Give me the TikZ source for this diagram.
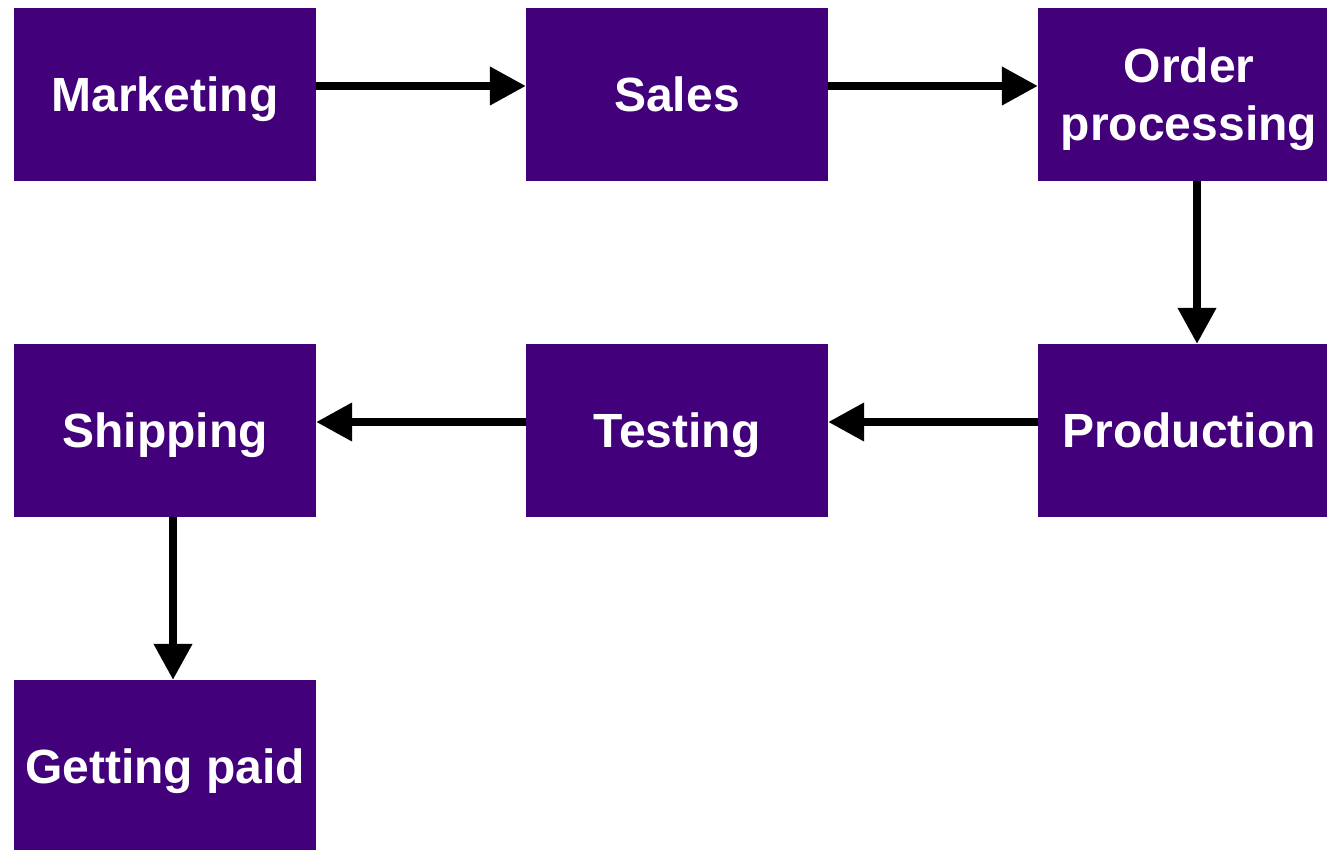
\documentclass[tikz,border=0pt]{standalone}
\usepackage{fontspec}
\setmainfont{Liberation Sans}
\usetikzlibrary{arrows.meta}
\definecolor{boxpurple}{HTML}{42007A}
\tikzset{
  stagebox/.style={rectangle, fill=boxpurple, draw=none, inner sep=0pt,
    minimum width=302pt, minimum height=173pt, text=white,
    font=\bfseries\fontsize{48}{58}\selectfont, align=center},
  oneline/.style={text height=34.4pt, text depth=0pt},
  flow/.style={line width=7.5pt, -{Triangle[length=36pt,width=37pt]}}
}
\begin{document}
\begin{tikzpicture}[x=1pt,y=-1pt]
\useasboundingbox (0,0) rectangle (1327,850);
\clip (0,0) rectangle (1327,850);
\node[stagebox,oneline] (mk) at (165,94.5) {Marketing};
\node[stagebox,oneline] (sa) at (677,94.5) {Sales};
\node[stagebox] (op) at (1189,94.5) {};
\node[text=white, font=\bfseries\fontsize{48}{58}\selectfont, align=center, inner sep=0pt] (opt) at (1189,99) {Order\\processing};
\node[stagebox,oneline] (sh) at (165,430.5) {Shipping};
\node[stagebox,oneline] (te) at (677,430.5) {Testing};
\node[stagebox,oneline] (pr) at (1189,430.5) {Production};
\node[stagebox,oneline] (gp) at (165,766.5) {Getting paid};
\draw[flow] ([yshift=8.5pt]mk.east) -- ([yshift=8.5pt]sa.west);
\draw[flow] ([yshift=8.5pt]sa.east) -- ([yshift=8.5pt]op.west);
\draw[flow] ([xshift=8pt]op.south) -- ([xshift=8pt]pr.north);
\draw[flow] ([yshift=8.5pt]pr.west) -- ([yshift=8.5pt]te.east);
\draw[flow] ([yshift=8.5pt]te.west) -- ([yshift=8.5pt]sh.east);
\draw[flow] ([xshift=8pt]sh.south) -- ([xshift=8pt]gp.north);
\end{tikzpicture}
\end{document}
